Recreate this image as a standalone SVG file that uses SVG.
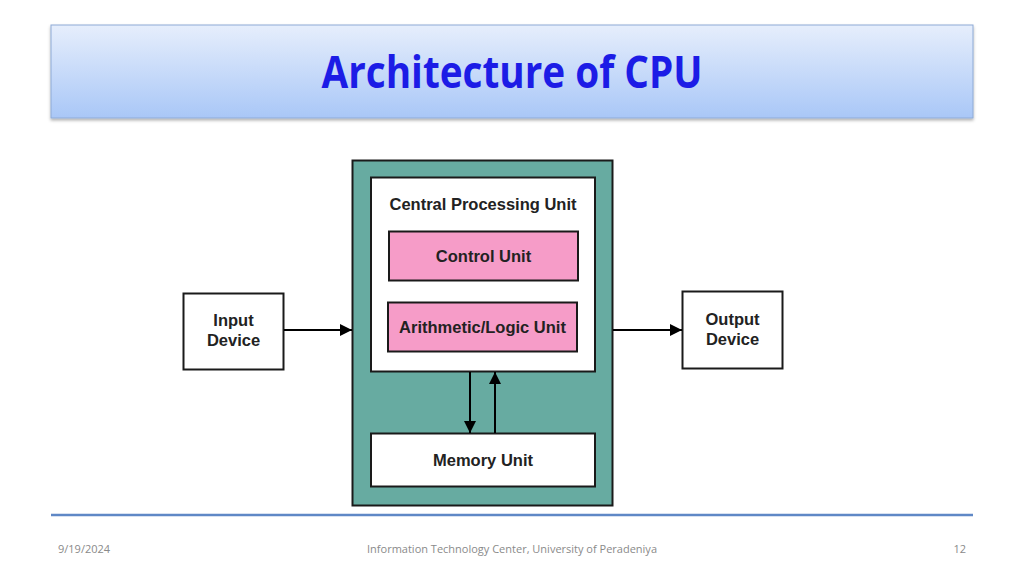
<svg xmlns="http://www.w3.org/2000/svg" width="1024" height="576" viewBox="0 0 1024 576">
<defs>
<linearGradient id="tg" x1="0" y1="0" x2="0" y2="1">
<stop offset="0" stop-color="#e6eefc"/>
<stop offset="1" stop-color="#a9c7f7"/>
</linearGradient>
<filter id="sh" x="-5%" y="-20%" width="110%" height="150%">
<feDropShadow dx="0" dy="2" stdDeviation="1.5" flood-color="#000" flood-opacity="0.3"/>
</filter>
<marker id="ah" viewBox="0 0 12 12" refX="12" refY="6" markerWidth="12" markerHeight="12" markerUnits="userSpaceOnUse" orient="auto">
<path d="M0,0 L12,6 L0,12 Z" fill="#000"/>
</marker>
</defs>
<style>
.box{stroke:#1a1a1a;stroke-width:2}
.lbl{font-family:"Liberation Sans",Arial,sans-serif;font-weight:bold;font-size:16.5px;fill:#222;text-anchor:middle}
.con{stroke:#000;stroke-width:2;fill:none;marker-end:url(#ah)}
.ft{font-family:"Open Sans","Liberation Sans",sans-serif;font-size:11px;fill:#8a8a8a}
</style>
<rect width="1024" height="576" fill="#fff"/>
<g id="title">
<rect x="51" y="25" width="922" height="93" fill="url(#tg)" stroke="#8eaad6" stroke-width="1" filter="url(#sh)"/>
<text x="512" y="88" text-anchor="middle" font-family="'Open Sans','Liberation Sans',sans-serif" font-weight="bold" font-size="44" fill="#1c1ce6" textLength="381" lengthAdjust="spacingAndGlyphs">Architecture of CPU</text>
</g>
<g id="system">
<rect class="box" x="352.5" y="160.5" width="260" height="345" fill="#67aba1"/>
</g>
<g id="cpu">
<rect class="box" x="371" y="177.5" width="224" height="194" fill="#fff"/>
<text class="lbl" x="483" y="210">Central Processing Unit</text>
</g>
<g id="control-unit">
<rect class="box" x="389" y="231.5" width="189" height="49" fill="#f69cc8"/>
<text class="lbl" x="483.5" y="262">Control Unit</text>
</g>
<g id="alu">
<rect class="box" x="388" y="302.5" width="189" height="49" fill="#f69cc8"/>
<text class="lbl" x="482.5" y="333">Arithmetic/Logic Unit</text>
</g>
<g id="memory-unit">
<rect class="box" x="371" y="433.5" width="224" height="53" fill="#fff"/>
<text class="lbl" x="483" y="466">Memory Unit</text>
</g>
<g id="input-device">
<rect class="box" x="183.5" y="293.5" width="100" height="76" fill="#fff"/>
<text class="lbl" x="233.5" y="326">Input</text>
<text class="lbl" x="233.5" y="346">Device</text>
</g>
<g id="output-device">
<rect class="box" x="682.5" y="291.5" width="100" height="77" fill="#fff"/>
<text class="lbl" x="732.5" y="325">Output</text>
<text class="lbl" x="732.5" y="345">Device</text>
</g>
<g id="connectors">
<line class="con" x1="284" y1="330" x2="352" y2="330"/>
<line class="con" x1="613" y1="330" x2="682" y2="330"/>
<line class="con" x1="470" y1="372" x2="470" y2="433"/>
<line class="con" x1="495" y1="433" x2="495" y2="372"/>
</g>
<g id="footer">
<line x1="51" y1="515" x2="973" y2="515" stroke="#5f88c6" stroke-width="2.5"/>
<text class="ft" x="58" y="553">9/19/2024</text>
<text class="ft" x="512" y="553" text-anchor="middle">Information Technology Center, University of Peradeniya</text>
<text class="ft" x="966" y="553" text-anchor="end">12</text>
</g>
</svg>
